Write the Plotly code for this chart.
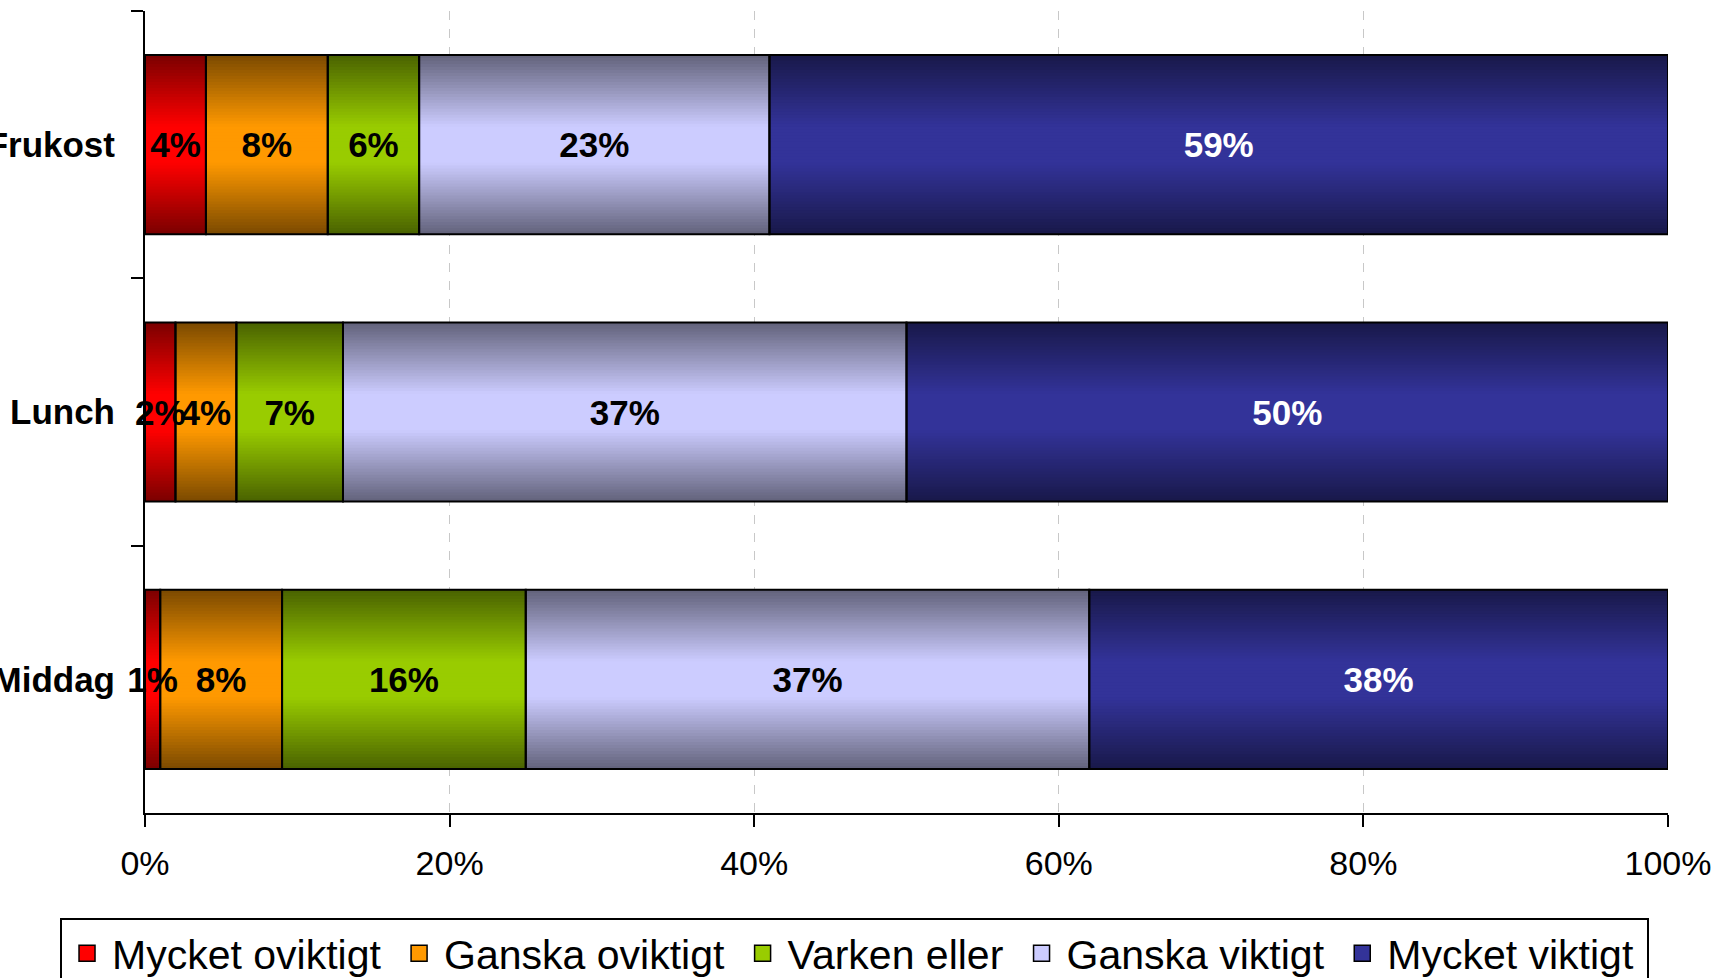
import plotly.graph_objects as go

# ---------------- data ----------------
categories = ["Frukost", "Lunch", "Middag"]
series_names = ["Mycket oviktigt", "Ganska oviktigt", "Varken eller",
                "Ganska viktigt", "Mycket viktigt"]
mycket_oviktigt = [4, 2, 1]
ganska_oviktigt = [8, 4, 8]
varken_eller = [6, 7, 16]
ganska_viktigt = [23, 37, 37]
mycket_viktigt = [59, 50, 38]
x_tick_values = [0, 20, 40, 60, 80, 100]
x_tick_labels = ["0%", "20%", "40%", "60%", "80%", "100%"]

series_values = [mycket_oviktigt, ganska_oviktigt, varken_eller,
                 ganska_viktigt, mycket_viktigt]

# ---------------- style ----------------
center_colors = [(255, 0, 0), (255, 153, 0), (153, 204, 0),
                 (204, 204, 255), (51, 51, 153)]
label_colors = ["black", "black", "black", "black", "white"]
EDGE_FACTOR = 0.48
BAR_WIDTH = 0.67
N_LAYERS = 30
FONT = "Liberation Sans, Arial, Helvetica, sans-serif"
LEGEND_PAD = "\u2009"  # thin spacing after each legend entry


def rgb(c):
    return "rgb(%d,%d,%d)" % tuple(int(round(v)) for v in c)


def shade(c, f):
    # f = 0 -> centre colour, f = 1 -> edge colour
    return tuple(v * (1 - f) + v * EDGE_FACTOR * f for v in c)


# cumulative bases
bases = []
running = [0] * len(categories)
for vals in series_values:
    bases.append(list(running))
    running = [r + v for r, v in zip(running, vals)]

fig = go.Figure()

# gradient layers (overlaid bars of decreasing thickness)
for si, vals in enumerate(series_values):
    for k in range(N_LAYERS):
        h = 1 - k / N_LAYERS
        d = 1 - (k + 0.5) / N_LAYERS
        f = min(max((d - 0.2) / 0.8, 0), 1)
        fig.add_trace(go.Bar(
            y=categories, x=vals, base=bases[si], orientation="h",
            width=BAR_WIDTH * h,
            marker=dict(color=rgb(shade(center_colors[si], f)),
                        line=dict(width=0)),
            showlegend=False, hoverinfo="skip",
        ))

# outlines + labels
for si, vals in enumerate(series_values):
    fig.add_trace(go.Bar(
        y=categories, x=vals, base=bases[si], orientation="h",
        width=BAR_WIDTH,
        marker=dict(color="rgba(0,0,0,0)", line=dict(color="black", width=2)),
        text=[f"{v}%" for v in vals],
        textposition="inside", insidetextanchor="middle",
        textangle=0, constraintext="none", cliponaxis=False,
        textfont=dict(family=FONT, size=35, color=label_colors[si], weight="bold"),
        name=series_names[si], showlegend=False,
        hovertemplate="%{y}: %{x}%<extra>" + series_names[si] + "</extra>",
    ))

# legend entries
for si, name in enumerate(series_names):
    fig.add_trace(go.Scatter(
        x=[None], y=[None], mode="markers", name=name + LEGEND_PAD,
        marker=dict(symbol="square", size=16, color=rgb(center_colors[si]),
                    line=dict(color="black", width=1.5)),
    ))

fig.update_layout(
    width=1719, height=978,
    barmode="overlay",
    paper_bgcolor="white", plot_bgcolor="white",
    font=dict(family=FONT, color="black"),
    margin=dict(l=145, r=51, t=11, b=165, autoexpand=False),
    showlegend=True,
    legend=dict(
        orientation="h", x=-0.0558, xanchor="left", y=-0.131, yanchor="top",
        bordercolor="black", borderwidth=2, bgcolor="white",
        font=dict(family=FONT, size=41, color="black"),
        itemsizing="trace", itemwidth=40, traceorder="normal",
    ),
    xaxis=dict(
        range=[0, 100], tickvals=x_tick_values, ticktext=x_tick_labels,
        showgrid=True, gridcolor="#c8c8c8", gridwidth=1, griddash="dash",
        showline=True, linecolor="black", linewidth=2,
        ticks="outside", ticklen=12, tickwidth=2, tickcolor="black",
        tickfont=dict(family=FONT, size=34, color="black"),
        ticklabelstandoff=7,
        zeroline=False, fixedrange=True,
    ),
    yaxis=dict(
        type="category", categoryorder="array", categoryarray=categories,
        range=[2.5, -0.5],
        showline=True, linecolor="black", linewidth=2,
        ticks="outside", ticklen=12, tickwidth=2, tickcolor="black",
        tickson="boundaries", ticklabelstandoff=21,
        tickfont=dict(family=FONT, size=35, color="black", weight="bold"),
        showgrid=False, zeroline=False, fixedrange=True,
    ),
)

fig.write_html(
    "out.html",
    config={"displayModeBar": False},
    post_script="document.body.style.margin='0';document.body.style.overflow='hidden';",
)
